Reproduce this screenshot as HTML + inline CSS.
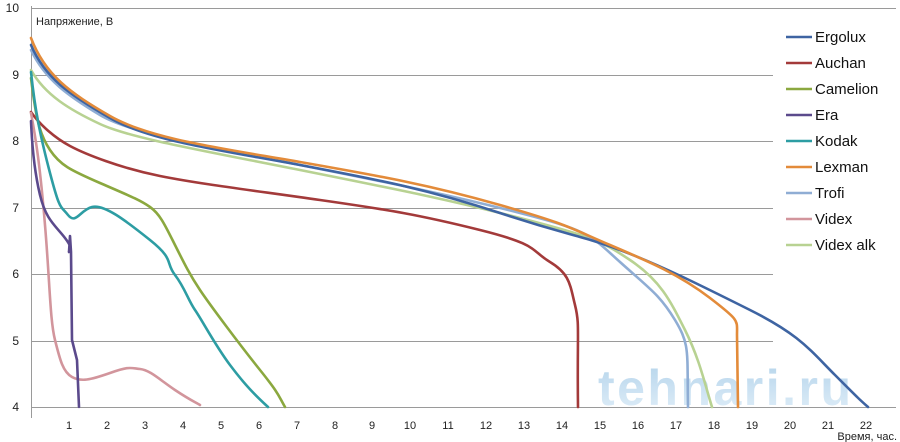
<!DOCTYPE html>
<html><head><meta charset="utf-8"><style>
body{margin:0;background:#fff;}
svg{display:block;font-family:"Liberation Sans",sans-serif;}
</style></head><body>
<svg width="900" height="442" viewBox="0 0 900 442">
<g stroke="#9a9a9a" stroke-width="1">
<line x1="31" y1="8.5" x2="896" y2="8.5"/>
<line x1="31" y1="75.5" x2="773" y2="75.5"/>
<line x1="31" y1="141.5" x2="773" y2="141.5"/>
<line x1="31" y1="208.5" x2="773" y2="208.5"/>
<line x1="31" y1="274.5" x2="773" y2="274.5"/>
<line x1="31" y1="341.5" x2="773" y2="341.5"/>
<line x1="31" y1="407.5" x2="896" y2="407.5"/>
<line x1="31.5" y1="6" x2="31.5" y2="418"/>
</g>
<g font-size="12" fill="#222" text-anchor="end">
<text x="19" y="12">10</text><text x="19" y="79">9</text><text x="19" y="145">8</text>
<text x="19" y="212">7</text><text x="19" y="278">6</text><text x="19" y="345">5</text><text x="19" y="411">4</text>
</g>
<g font-size="11" fill="#222" text-anchor="middle">
<text x="69" y="429">1</text><text x="107" y="429">2</text><text x="145" y="429">3</text><text x="183" y="429">4</text>
<text x="221" y="429">5</text><text x="259" y="429">6</text><text x="297" y="429">7</text><text x="335" y="429">8</text>
<text x="372" y="429">9</text><text x="410" y="429">10</text><text x="448" y="429">11</text><text x="486" y="429">12</text>
<text x="524" y="429">13</text><text x="562" y="429">14</text><text x="600" y="429">15</text><text x="638" y="429">16</text>
<text x="676" y="429">17</text><text x="714" y="429">18</text><text x="752" y="429">19</text><text x="790" y="429">20</text>
<text x="828" y="429">21</text><text x="866" y="429">22</text>
</g>
<text x="36" y="25" font-size="11" fill="#222">Напряжение, В</text>
<text x="897" y="440" font-size="11" fill="#222" text-anchor="end">Время, час.</text>
<defs><linearGradient id="wm" x1="0" y1="0" x2="0" y2="1">
<stop offset="0" stop-color="#a8cde8"/><stop offset="1" stop-color="#dcecf8"/></linearGradient></defs>
<text x="598" y="405" font-size="50" font-weight="bold" fill="url(#wm)" opacity="0.85" letter-spacing="2" textLength="255">tehnari.ru</text>
<g fill="none" stroke-width="2.6" stroke-linejoin="round" stroke-linecap="round">
<path stroke="#b8d292" d="M31,70 C45,95 70,110 100,124 S200,150 300,170 S450,200 520,218 S600,240 630,260 S670,300 685,330 S705,385 712,407"/>
<path stroke="#8fadd4" d="M31,50 C45,80 70,97 100,115 S200,145 300,165 S450,195 520,213 S590,235 620,262 S660,295 675,320 S687,350 688,407"/>
<path stroke="#3e64a2" d="M31,45 C45,78 70,95 110,118 S220,150 300,165 S430,190 500,213 S580,235 620,250 S700,285 750,310 S810,350 835,375 S860,400 868,407"/>
<path stroke="#e38b3a" d="M31,38 C45,75 70,93 110,116 S220,148 300,162 S430,185 500,205 S570,228 610,245 S680,275 710,298 S737,320 737,335 L738,407"/>
<path stroke="#a33a3a" d="M31,112 C40,125 55,138 70,146 S120,168 160,176 S250,190 320,200 S420,215 480,230 S530,250 550,262 S570,285 575,305 S577,330 578,407"/>
<path stroke="#8ba83f" d="M31,78 C36,120 40,135 50,150 S70,170 100,183 S140,200 150,207 S165,225 175,245 S190,275 200,290 S240,345 260,370 S278,395 285,407"/>
<path stroke="#2d9da3" d="M31,72 C35,110 40,135 50,173 S60,205 68,215 S80,210 92,207 S125,220 150,240 S165,262 175,275 S188,300 195,310 S215,345 230,365 S255,395 268,407"/>
<path stroke="#d2959c" d="M31,113 C36,140 40,165 45,225 S50,320 55,340 S63,372 72,377 S90,380 110,373 S130,368 140,369 S160,380 175,390 S195,402 200,405"/>
<path stroke="#5b4a8c" d="M31,121 C32,145 34,170 40,195 S55,225 65,238 S68,250 69,252 L70,236 L71,252 L72,340 L77,360 L79,407"/>
</g>
<g stroke-width="2.6">
<line x1="786" y1="37" x2="812" y2="37" stroke="#3e64a2"/>
<line x1="786" y1="63" x2="812" y2="63" stroke="#a33a3a"/>
<line x1="786" y1="89" x2="812" y2="89" stroke="#8ba83f"/>
<line x1="786" y1="115" x2="812" y2="115" stroke="#5b4a8c"/>
<line x1="786" y1="141" x2="812" y2="141" stroke="#2d9da3"/>
<line x1="786" y1="167" x2="812" y2="167" stroke="#e38b3a"/>
<line x1="786" y1="193" x2="812" y2="193" stroke="#8fadd4"/>
<line x1="786" y1="219" x2="812" y2="219" stroke="#d2959c"/>
<line x1="786" y1="245" x2="812" y2="245" stroke="#b8d292"/>
</g>
<g font-size="15" fill="#111">
<text x="815" y="42">Ergolux</text><text x="815" y="68">Auchan</text><text x="815" y="94">Camelion</text>
<text x="815" y="120">Era</text><text x="815" y="146">Kodak</text><text x="815" y="172">Lexman</text>
<text x="815" y="198">Trofi</text><text x="815" y="224">Videx</text><text x="815" y="250">Videx alk</text>
</g>
</svg>
</body></html>
